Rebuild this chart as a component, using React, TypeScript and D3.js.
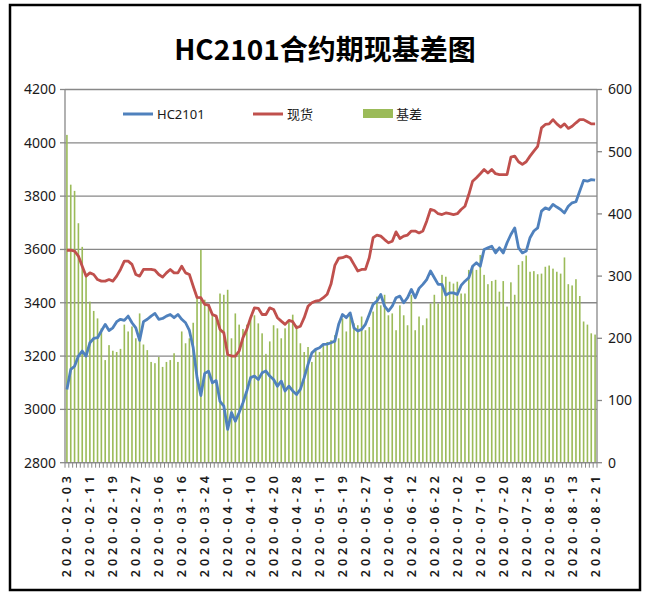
import React from "react";
import * as d3 from "d3";

// trading days, 2020-02-03 .. 2020-08-21
const dates = [
  "2020-02-03","2020-02-04","2020-02-05","2020-02-06","2020-02-07","2020-02-10","2020-02-11","2020-02-12","2020-02-13","2020-02-14",
  "2020-02-17","2020-02-18","2020-02-19","2020-02-20","2020-02-21","2020-02-24","2020-02-25","2020-02-26","2020-02-27","2020-02-28",
  "2020-03-02","2020-03-03","2020-03-04","2020-03-05","2020-03-06","2020-03-09","2020-03-10","2020-03-11","2020-03-12","2020-03-13",
  "2020-03-16","2020-03-17","2020-03-18","2020-03-19","2020-03-20","2020-03-23","2020-03-24","2020-03-25","2020-03-26","2020-03-27",
  "2020-03-30","2020-03-31","2020-04-01","2020-04-02","2020-04-03","2020-04-07","2020-04-08","2020-04-09","2020-04-10","2020-04-13",
  "2020-04-14","2020-04-15","2020-04-16","2020-04-17","2020-04-20","2020-04-21","2020-04-22","2020-04-23","2020-04-24","2020-04-27",
  "2020-04-28","2020-04-29","2020-04-30","2020-05-06","2020-05-07","2020-05-08","2020-05-11","2020-05-12","2020-05-13","2020-05-14",
  "2020-05-15","2020-05-18","2020-05-19","2020-05-20","2020-05-21","2020-05-22","2020-05-25","2020-05-26","2020-05-27","2020-05-28",
  "2020-05-29","2020-06-01","2020-06-02","2020-06-03","2020-06-04","2020-06-05","2020-06-08","2020-06-09","2020-06-10","2020-06-11",
  "2020-06-12","2020-06-15","2020-06-16","2020-06-17","2020-06-18","2020-06-19","2020-06-22","2020-06-23","2020-06-24","2020-06-29",
  "2020-06-30","2020-07-01","2020-07-02","2020-07-03","2020-07-06","2020-07-07","2020-07-08","2020-07-09","2020-07-10","2020-07-13",
  "2020-07-14","2020-07-15","2020-07-16","2020-07-17","2020-07-20","2020-07-21","2020-07-22","2020-07-23","2020-07-24","2020-07-27",
  "2020-07-28","2020-07-29","2020-07-30","2020-07-31","2020-08-03","2020-08-04","2020-08-05","2020-08-06","2020-08-07","2020-08-10",
  "2020-08-11","2020-08-12","2020-08-13","2020-08-14","2020-08-17","2020-08-18","2020-08-19","2020-08-20","2020-08-21",
];

const futures = [
  3075,3150,3162,3200,3219,3200,3250,3266,3269,3294,3319,3296,3306,3329,3338,3334,3350,3325,3306,3259,
  3329,3338,3350,3360,3338,3341,3350,3356,3344,3356,3338,3325,3296,3231,3119,3052,3135,3143,3100,3108,
  3030,3012,2925,2988,2956,2988,3025,3069,3119,3125,3112,3137,3144,3125,3112,3087,3106,3069,3087,3069,
  3056,3075,3119,3169,3212,3225,3231,3244,3245,3250,3256,3319,3356,3344,3362,3306,3294,3300,3319,3356,
  3394,3406,3431,3387,3369,3387,3419,3425,3400,3419,3450,3419,3454,3469,3487,3519,3494,3469,3469,3429,
  3437,3437,3431,3465,3481,3494,3537,3550,3537,3600,3606,3612,3587,3606,3587,3625,3656,3681,3606,3587,
  3594,3644,3669,3681,3744,3756,3750,3769,3759,3750,3737,3762,3775,3779,3819,3859,3856,3862,3860,
];

const spot = [
  3597,3597,3594,3575,3537,3500,3512,3506,3487,3481,3481,3487,3481,3500,3525,3556,3556,3544,3506,3500,
  3525,3525,3525,3522,3506,3496,3512,3525,3512,3512,3537,3512,3506,3462,3420,3419,3394,3391,3356,3350,
  3300,3287,3206,3200,3200,3219,3269,3300,3344,3381,3379,3356,3356,3381,3375,3344,3331,3319,3334,3329,
  3306,3312,3344,3387,3400,3406,3409,3419,3432,3470,3540,3567,3569,3575,3569,3544,3519,3525,3525,3569,
  3644,3654,3650,3637,3625,3631,3666,3641,3650,3654,3669,3669,3662,3669,3706,3750,3746,3734,3731,3737,
  3734,3731,3734,3750,3762,3806,3856,3869,3884,3900,3887,3900,3884,3881,3881,3881,3946,3950,3929,3919,
  3929,3950,3969,3987,4056,4069,4071,4087,4071,4059,4071,4054,4062,4075,4087,4087,4079,4071,4071,
];

const basis = [
  527,447,437,385,347,302,259,244,232,216,165,189,180,178,183,222,211,219,200,240,
  190,181,162,160,170,154,162,165,176,162,211,192,200,225,265,342,262,255,240,235,
  272,270,278,200,240,222,215,222,232,237,224,208,175,195,221,216,200,216,227,238,
  221,192,178,186,162,184,178,189,194,197,205,200,232,211,238,224,221,235,213,218,
  243,267,253,270,237,240,213,253,237,221,270,213,235,221,232,256,270,256,302,299,
  291,288,291,272,272,310,315,310,334,302,287,292,294,275,292,251,290,270,318,324,
  333,307,308,303,304,315,317,312,307,304,330,287,285,295,268,227,222,208,206,
];

const leftTicks = [2800, 3000, 3200, 3400, 3600, 3800, 4000, 4200];
const rightTicks = [0, 100, 200, 300, 400, 500, 600];

const W = 646;
const H = 595;
const plot = { left: 65, right: 597, top: 89.5, bottom: 462.7 };

const BLUE = "#4F81BD";
const RED = "#C0504D";
const GREEN = "#9BBB59";
const GRID = "#888888";
const TEXT = "#1a1a1a";
const FONT = "'Noto Sans', 'Noto Sans CJK SC', sans-serif";

export default function App() {
  const x = d3.scaleBand<string>().domain(dates).range([plot.left, plot.right]).padding(0);
  const xc = (d: string) => (x(d) ?? 0) + x.bandwidth() / 2;
  const yL = d3.scaleLinear().domain([2800, 4200]).range([plot.bottom, plot.top]);
  const yR = d3.scaleLinear().domain([0, 600]).range([plot.bottom, plot.top]);

  const line = d3
    .line<number>()
    .x((_, i) => xc(dates[i]))
    .y((v) => yL(v));

  const barW = x.bandwidth() * 0.42;
  const labelDates = dates.filter((_, i) => i % 6 === 0);

  return (
    <svg
      width={W}
      height={H}
      style={{ position: "absolute", left: 0, top: 0, background: "#fff" }}
      fontFamily={FONT}
    >
      <rect x={0} y={0} width={W} height={H} fill="#fff" />
      <rect x={10} y={5} width={630} height={585} fill="none" stroke="#000" strokeWidth={2.5} />

      {/* title */}
      <text
        x={325}
        y={60}
        textAnchor="middle"
        fontSize={28}
        fontWeight={600}
        fontFamily="'Noto Sans CJK SC', sans-serif"
        fill="#000"
      >
        HC2101合约期现基差图
      </text>

      {/* gridlines */}
      {leftTicks.map((t) => (
        <line key={t} x1={plot.left} x2={plot.right} y1={yL(t)} y2={yL(t)} stroke={GRID} strokeWidth={1.3} />
      ))}

      {/* bars */}
      {basis.map((v, i) => (
        <rect
          key={i}
          x={xc(dates[i]) - barW / 2}
          y={yR(v)}
          width={barW}
          height={plot.bottom - yR(v)}
          fill={GREEN}
        />
      ))}

      {/* lines */}
      <path d={line(spot) ?? ""} fill="none" stroke={RED} strokeWidth={2.8} strokeLinejoin="round" />
      <path d={line(futures) ?? ""} fill="none" stroke={BLUE} strokeWidth={2.8} strokeLinejoin="round" />

      {/* axes */}
      <line x1={plot.left} x2={plot.left} y1={plot.top} y2={plot.bottom} stroke={GRID} strokeWidth={1.3} />
      <line x1={plot.right} x2={plot.right} y1={plot.top} y2={plot.bottom} stroke={GRID} strokeWidth={1.3} />
      <line x1={plot.left} x2={plot.right} y1={plot.bottom} y2={plot.bottom} stroke={GRID} strokeWidth={1.3} />

      {leftTicks.map((t) => (
        <g key={t}>
          <line x1={plot.left - 5} x2={plot.left} y1={yL(t)} y2={yL(t)} stroke={GRID} strokeWidth={1.3} />
          <text x={56} y={yL(t)} dy="0.35em" textAnchor="end" fontSize={14} fill={TEXT}>
            {t}
          </text>
        </g>
      ))}
      {rightTicks.map((t) => (
        <g key={t}>
          <line x1={plot.right} x2={plot.right + 5} y1={yR(t)} y2={yR(t)} stroke={GRID} strokeWidth={1.3} />
          <text x={608} y={yR(t)} dy="0.35em" textAnchor="start" fontSize={14} fill={TEXT}>
            {t}
          </text>
        </g>
      ))}

      {/* category ticks */}
      {[...dates.map((d) => x(d) ?? 0), plot.right].map((px, i) => (
        <line key={i} x1={px} x2={px} y1={plot.bottom} y2={plot.bottom + 5} stroke={GRID} strokeWidth={1} />
      ))}

      {labelDates.map((d) => (
        <text
          key={d}
          transform={`translate(${xc(d)},${472}) rotate(-90)`}
          dy="0.36em"
          textAnchor="end"
          fontSize={12.5}
          fontWeight={600}
          letterSpacing={4}
          fill={TEXT}
        >
          {d}
        </text>
      ))}

      {/* legend */}
      <line x1={123} x2={153} y1={114} y2={114} stroke={BLUE} strokeWidth={3} />
      <text x={157} y={114} dy="0.35em" fontSize={13} fill={TEXT}>HC2101</text>
      <line x1={253} x2={283} y1={114} y2={114} stroke={RED} strokeWidth={3} />
      <text x={287} y={114} dy="0.35em" fontSize={13} fill={TEXT}>现货</text>
      <rect x={363} y={109} width={30} height={9} fill={GREEN} />
      <text x={396} y={114} dy="0.35em" fontSize={13} fill={TEXT}>基差</text>
    </svg>
  );
}
